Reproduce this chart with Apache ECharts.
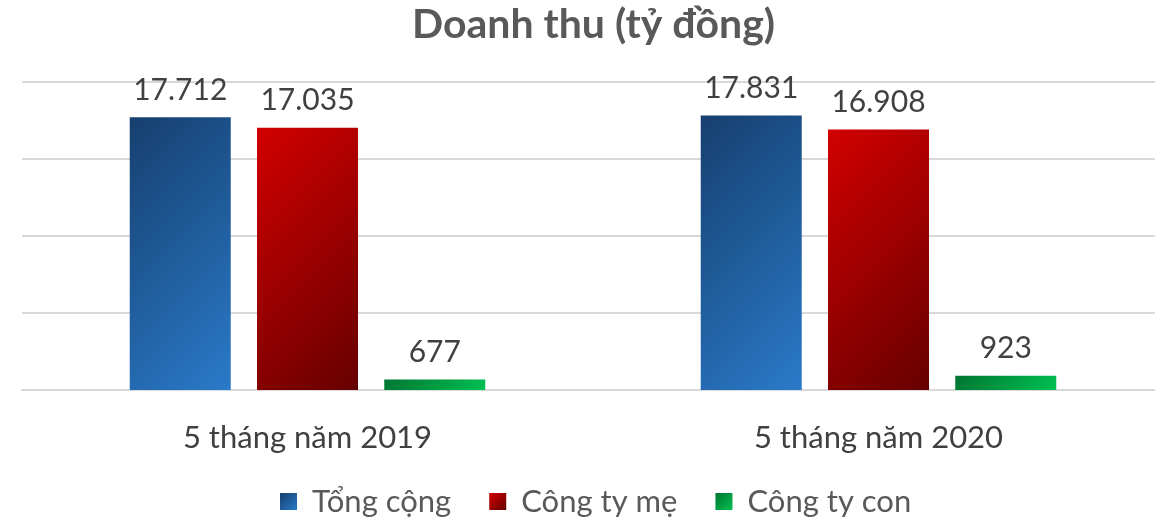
<!DOCTYPE html>
<html lang="vi">
<head>
<meta charset="utf-8">
<script src="https://cdn.jsdelivr.net/npm/echarts@6/dist/echarts.min.js"></script>
<style>
  * { margin: 0; padding: 0; }
  html, body { background: #fff; overflow: hidden; }
</style>
</head>
<body>
<!-- hơi rộng hơn cửa sổ để cột thứ hai khớp vị trí -->
<div id="main" style="width:1164px;height:519px;"></div>
<script>
// dữ liệu doanh thu (tỷ đồng)
var categories = ['5 tháng năm 2019', '5 tháng năm 2020'];
var seriesNames = ['Tổng cộng', 'Công ty mẹ', 'Công ty con'];
var tongCong = [17712, 17831];
var congTyMe = [17035, 16908];
var congTyCon = [677, 923];

var FONT = 'Lato, "Noto Sans", sans-serif';
var BAR_W = 101, PLOT_H = 308, Y_MAX = 20000;
var stops = [
    ['#163f6e', '#2a7ac9'],
    ['#d20000', '#660000'],
    ['#007532', '#00c152']
];

// gradient 45 độ theo pixel (giống Excel), tính theo kích thước cột
function barColor(k) {
    return function (p) {
        var h = Math.max(1, p.value / Y_MAX * PLOT_H);
        var s = (BAR_W + h) / 2;
        return new echarts.graphic.LinearGradient(0, 0, s / BAR_W, s / h, [
            { offset: 0, color: stops[k][0] },
            { offset: 1, color: stops[k][1] }
        ]);
    };
}
function iconColor(k) {
    return new echarts.graphic.LinearGradient(0, 0, 1, 1, [
        { offset: 0, color: stops[k][0] },
        { offset: 1, color: stops[k][1] }
    ]);
}

function fmt(p) {
    return echarts.format.addCommas(p.value).replace(/,/g, '.');
}

function mkSeries(k, data) {
    return {
        name: seriesNames[k],
        type: 'bar',
        data: data,
        barWidth: BAR_W,
        barGap: '26%',
        itemStyle: { color: barColor(k) },
        label: {
            show: true,
            position: 'top',
            distance: 12,
            color: '#404040',
            fontSize: 30,
            fontFamily: FONT,
            formatter: fmt
        }
    };
}

var chart = echarts.init(document.getElementById('main'), null, { renderer: 'canvas' });
chart.setOption({
    animation: false,
    title: {
        text: 'Doanh thu (tỷ đồng)',
        left: 412,
        top: 4,
        padding: 0,
        textStyle: {
            color: '#595959',
            fontSize: 41,
            fontWeight: 'bold',
            fontFamily: FONT
        }
    },
    legend: {
        bottom: 2,
        left: 280,
        padding: 0,
        itemWidth: 17,
        itemHeight: 17,
        itemGap: 38,
        icon: 'rect',
        textStyle: { color: '#595959', fontSize: 31, fontFamily: FONT, padding: [0, 0, 0, 10] },
        data: seriesNames.map(function (n, k) {
            return { name: n, itemStyle: { color: iconColor(k) } };
        })
    },
    grid: { left: 22, top: 82, right: 0, height: PLOT_H },
    xAxis: {
        type: 'category',
        data: categories,
        axisLine: { lineStyle: { color: '#d9d9d9', width: 2 } },
        axisTick: { show: false },
        axisLabel: { color: '#404040', fontSize: 31, fontFamily: FONT, margin: 32 }
    },
    yAxis: {
        type: 'value',
        min: 0,
        max: Y_MAX,
        interval: 5000,
        axisLabel: { show: false },
        axisLine: { show: false },
        axisTick: { show: false },
        splitLine: { lineStyle: { color: '#d9d9d9', width: 2 } }
    },
    series: [
        mkSeries(0, tongCong),
        mkSeries(1, congTyMe),
        mkSeries(2, congTyCon)
    ]
});
</script>
</body>
</html>
